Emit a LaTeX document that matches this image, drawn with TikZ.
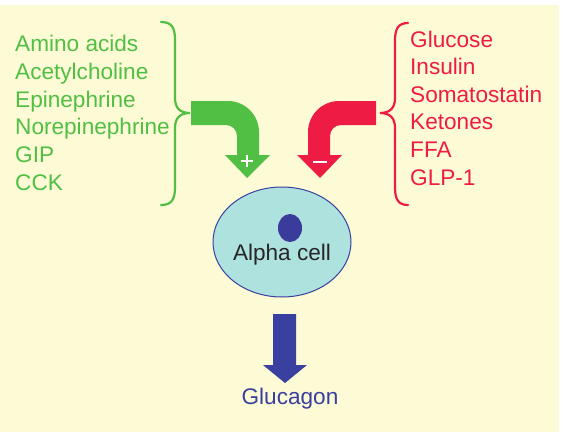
\documentclass[tikz,border=0pt]{standalone}
\usepackage{fontspec}
\setmainfont{Liberation Sans}
\usetikzlibrary{shapes.geometric}
\definecolor{bg}{HTML}{FDFAD6}
\definecolor{grn}{HTML}{50BF44}
\definecolor{rd}{HTML}{EE1C45}
\definecolor{blu}{HTML}{3A40A0}
\definecolor{cellfill}{HTML}{AEE2DF}
\definecolor{nuc}{HTML}{3B3B9C}
\begin{document}
\begin{tikzpicture}[x=1pt,y=-1pt,
  lbl/.style={anchor=base west,inner sep=0pt,font=\fontsize{22.6}{27}\selectfont},
  glbl/.style={lbl,text=grn},
  rlbl/.style={lbl,text=rd},
  brace/.style={line width=2.2pt,line cap=round}]
\useasboundingbox (0,0) rectangle (571,439);
\fill[bg] (0,5) rectangle (559,432);
% green list
\node[glbl] (g1) at (15,52) {Amino acids};
\node[glbl] (g2) at (15,79.6) {Acetylcholine};
\node[glbl] (g3) at (15,107.2) {Epinephrine};
\node[glbl] (g4) at (15,134.8) {Norepinephrine};
\node[glbl] (g5) at (15,162.4) {GIP};
\node[glbl] (g6) at (15,190) {CCK};
% red list
\node[rlbl] (r1) at (410,47) {Glucose};
\node[rlbl] (r2) at (410,74.6) {Insulin};
\node[rlbl] (r3) at (410,102.2) {Somatostatin};
\node[rlbl] (r4) at (410,129.8) {Ketones};
\node[rlbl] (r5) at (410,157.4) {FFA};
\node[rlbl] (r6) at (410,185) {GLP-1};
% braces
\draw[brace,grn] (161,22) .. controls (172,22) and (175,28) .. (175,40) -- (175,98)
  .. controls (175,108) and (180,113) .. (190,113)
  .. controls (180,113) and (175,118) .. (175,128) -- (175,187)
  .. controls (175,199) and (172,205) .. (161,205);
\draw[brace,rd] (408,23) .. controls (398,23) and (395,29) .. (395,41) -- (395,98)
  .. controls (395,108) and (390,113) .. (380,113)
  .. controls (390,113) and (395,118) .. (395,128) -- (395,187)
  .. controls (395,199) and (398,205) .. (408,205);
% curved arrows
\fill[grn] (191,101) -- (228,101) .. controls (245,101) and (259,115) .. (259,132)
  -- (259,155) -- (270,155) -- (247,178) -- (225,155) -- (237,155) -- (237,136)
  .. controls (237,130) and (232,125) .. (226,125) -- (191,125) -- cycle;
\fill[rd] (376,101) -- (339,101) .. controls (322,101) and (308,115) .. (308,132)
  -- (308,155) -- (297,155) -- (320,178) -- (342,155) -- (330,155) -- (330,136)
  .. controls (330,130) and (335,125) .. (341,125) -- (376,125) -- cycle;
\draw[white,line width=1.2pt] (241,161) -- (253,161) (247,155) -- (247,167);
\draw[white,line width=1.2pt] (313,162) -- (327,162);
% cell
\node[ellipse,draw=blu,fill=cellfill,line width=1pt,minimum width=138pt,minimum height=110pt,inner sep=0pt] (cell) at (282,242) {};
\fill[nuc] (290,228) ellipse [x radius=12,y radius=14];
\node[inner sep=0pt,font=\fontsize{22.6}{27}\selectfont,text=black!85] (lab) at (282,255) {Alpha cell};
% output arrow
\fill[blu] (273,314) -- (296,314) -- (296,365) -- (307,365) -- (285,383) -- (263,365) -- (273,365) -- cycle;
\node[inner sep=0pt,font=\fontsize{22.6}{27}\selectfont,text=blu] (glu) at (290,399) {Glucagon};
\end{tikzpicture}
\end{document}
